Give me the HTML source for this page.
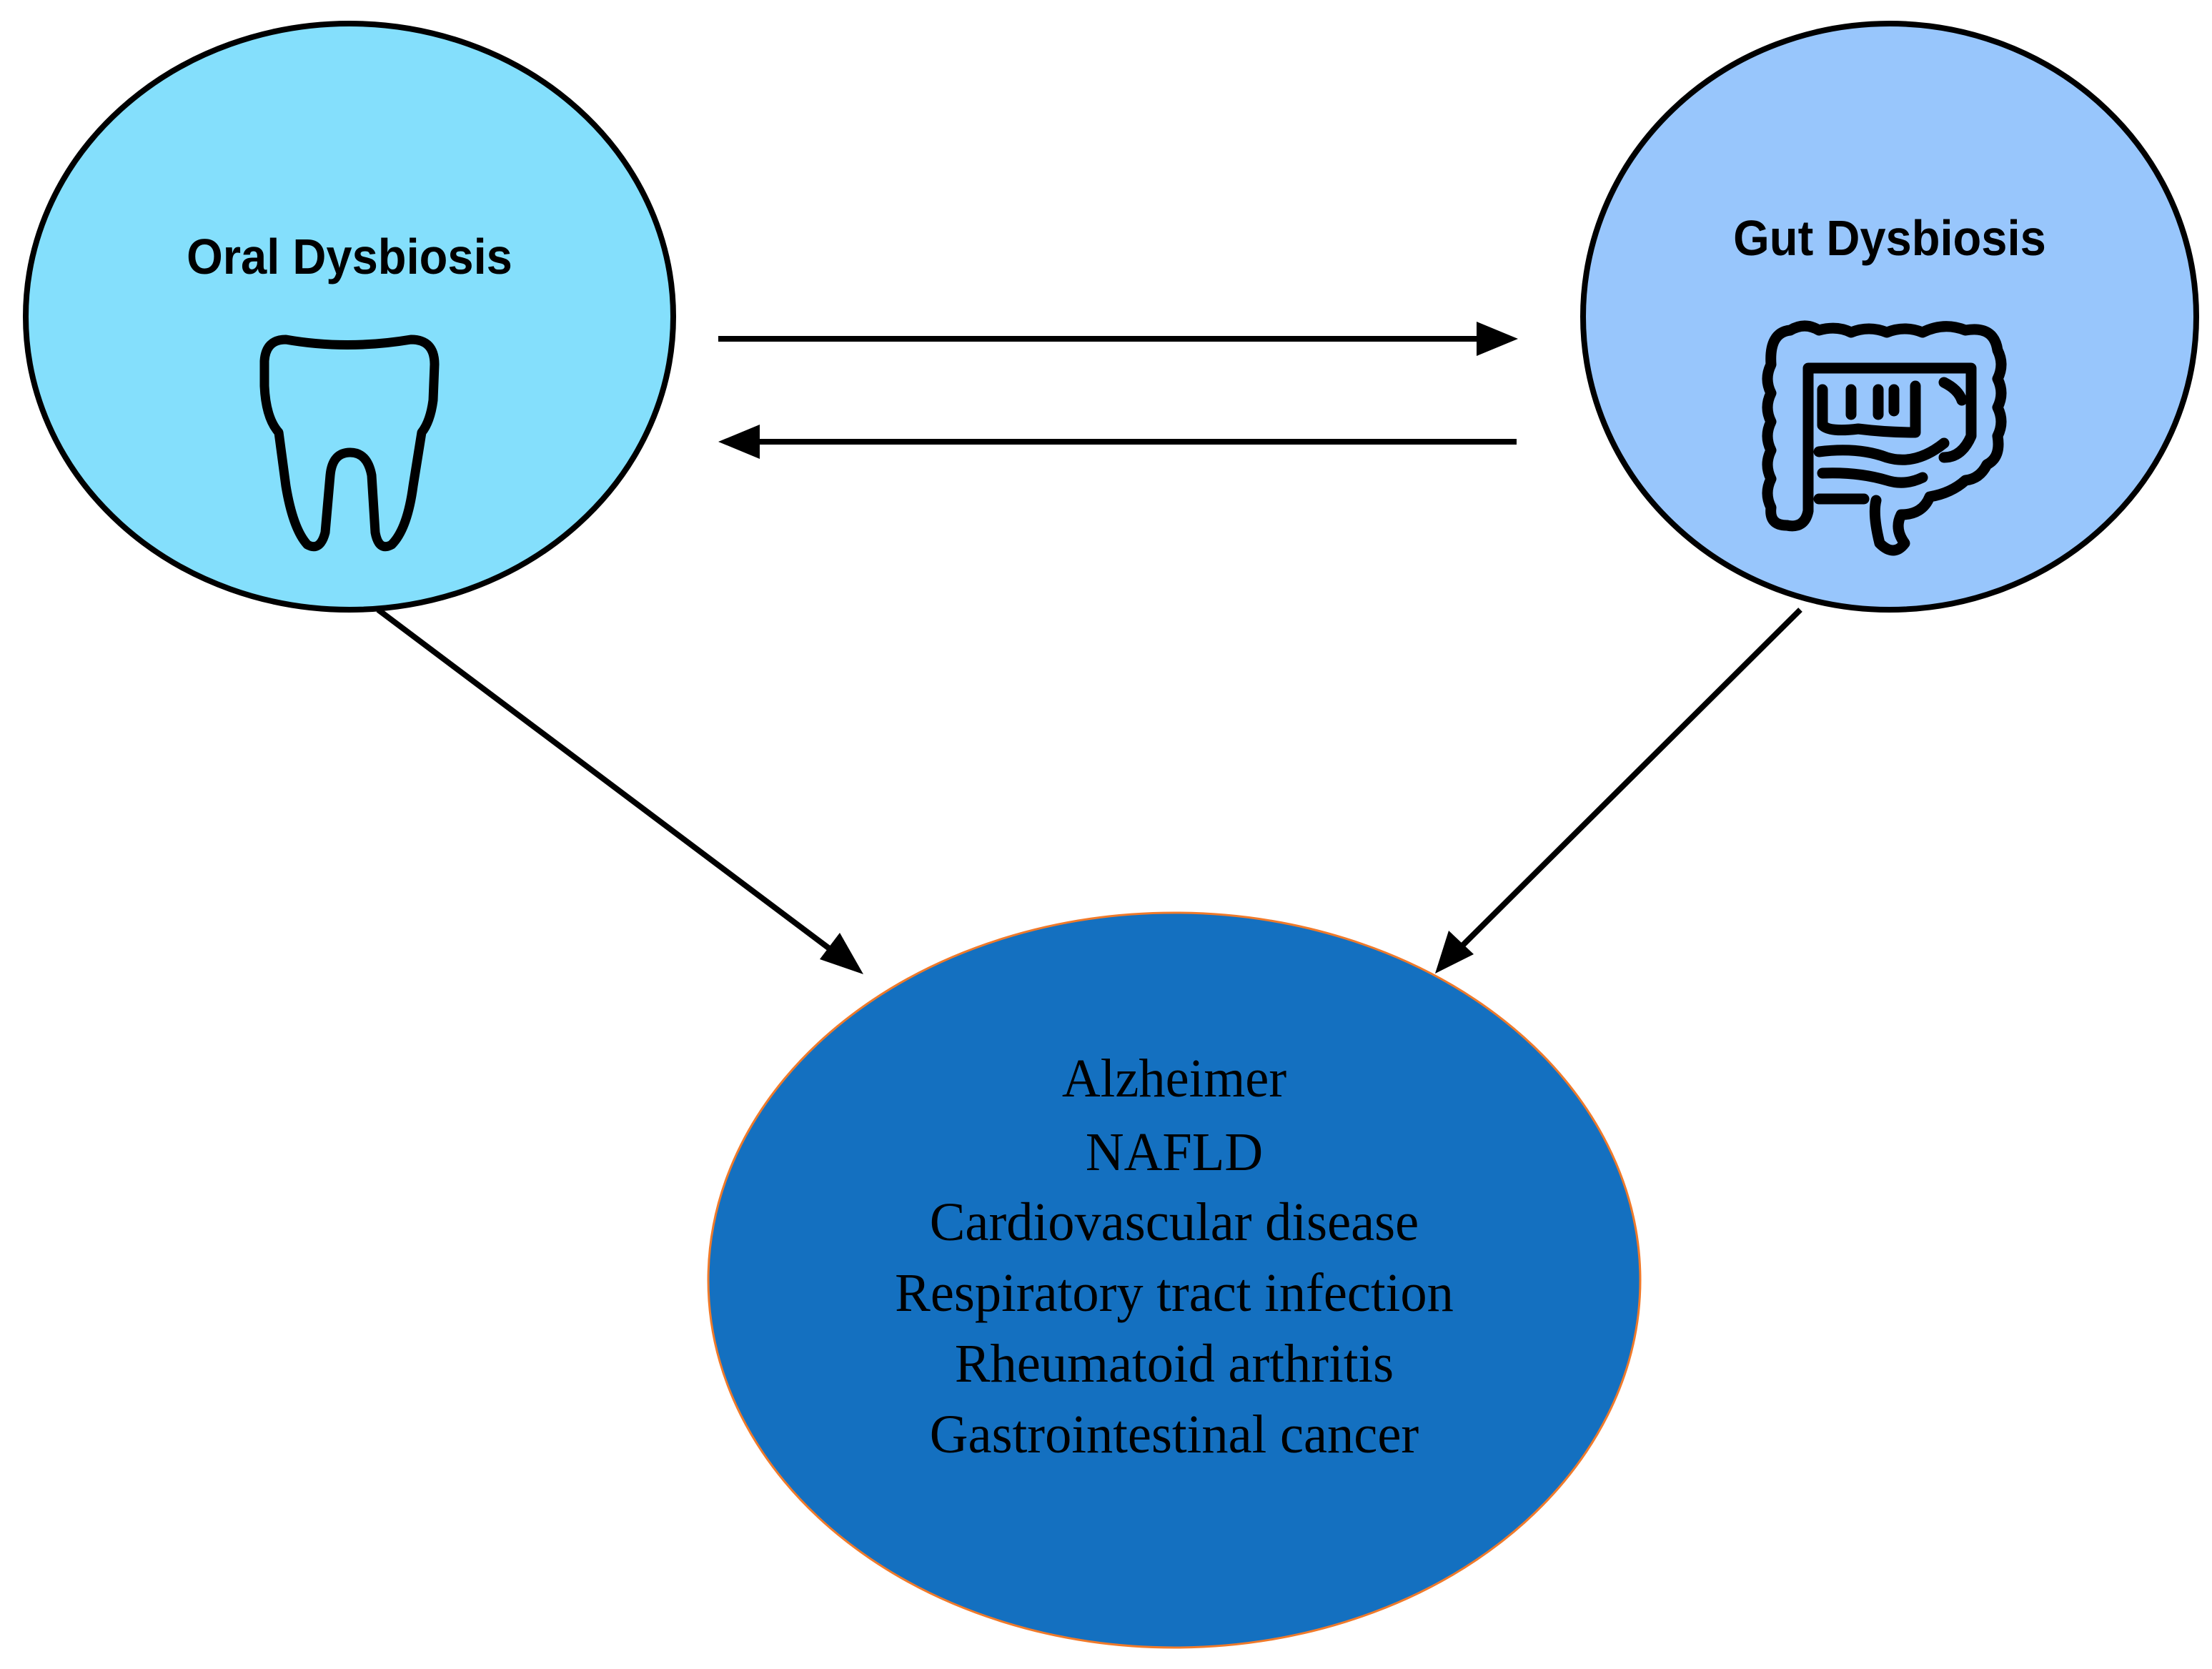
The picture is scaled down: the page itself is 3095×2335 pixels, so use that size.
<!DOCTYPE html>
<html><head><meta charset="utf-8"><style>
html,body{margin:0;padding:0;background:#fff}
svg{display:block}
</style></head><body>
<svg width="3095" height="2335" viewBox="0 0 3095 2335" xmlns="http://www.w3.org/2000/svg">
<ellipse cx="489" cy="443" rx="453" ry="410" fill="#84dffc" stroke="#000" stroke-width="8"/>
<ellipse cx="2644" cy="443" rx="429" ry="410" fill="#98c6fc" stroke="#000" stroke-width="8"/>
<ellipse cx="1643" cy="1791" rx="652" ry="514" fill="#1470c0" stroke="#f07a2a" stroke-width="3"/>

<text x="489" y="383" text-anchor="middle" font-family="Liberation Sans, sans-serif" font-weight="bold" font-size="70" transform="translate(489 0) scale(0.93 1) translate(-489 0)">Oral Dysbiosis</text>
<text x="2644" y="357" text-anchor="middle" font-family="Liberation Sans, sans-serif" font-weight="bold" font-size="70" transform="translate(2644 0) scale(0.93 1) translate(-2644 0)">Gut Dysbiosis</text>

<path d="M400,475 Q485,490 575,475 Q608,475 608,510 L606,560 Q602,590 590,605 L578,680 Q570,740 548,762 Q530,772 525,745 L520,665 Q514,633 490,633 Q465,633 462,665 L455,745 Q448,772 430,762 Q410,740 400,680 L390,605 Q372,585 370,540 L370,505 Q372,475 400,475 Z" fill="none" stroke="#000" stroke-width="13" stroke-linejoin="round"/>

<g fill="none" stroke="#000" stroke-width="15" stroke-linecap="round" stroke-linejoin="round">
<path d="M2500,735 Q2475,735 2478,710 Q2468,690 2478,670 Q2468,650 2478,630 Q2468,610 2478,590 Q2468,570 2478,550 Q2468,530 2478,510 Q2475,465 2505,462 Q2525,450 2545,462 Q2570,455 2590,465 Q2615,455 2640,465 Q2665,455 2690,465 Q2720,450 2750,462 Q2790,455 2795,490 Q2805,510 2795,530 Q2805,550 2795,570 Q2805,590 2795,610 Q2800,640 2780,650 Q2770,670 2750,672 Q2730,690 2700,695 Q2690,720 2660,720 Q2650,740 2665,760 Q2650,780 2630,760 Q2620,720 2625,700"/>
<path d="M2500,735 Q2525,740 2530,715 L2530,515 L2758,515 L2758,610 Q2745,640 2720,640"/>
<path d="M2550,545 L2550,595 Q2560,605 2600,600 Q2640,605 2680,605 L2680,540"/>
<path d="M2590,545 L2590,580 M2628,545 L2628,580 M2650,545 L2650,575 M2720,535 Q2740,545 2745,560"/>
<path d="M2545,632 Q2600,625 2640,640 Q2680,652 2720,620"/>
<path d="M2550,662 Q2600,660 2640,672 Q2665,680 2690,668"/>
<path d="M2545,698 L2608,698"/>
</g>

<g stroke="#000" stroke-width="8" fill="none">
<line x1="1005" y1="474" x2="2080" y2="474"/>
<line x1="2122" y1="618" x2="1050" y2="618"/>
<line x1="529" y1="853" x2="1175" y2="1338"/>
<line x1="2519" y1="853" x2="2036" y2="1333"/>
</g>
<path d="M2124,474 L2066,450 L2066,498 Z" fill="#000"/>
<path d="M1005,618 L1063,594 L1063,642 Z" fill="#000"/>
<path d="M1208,1363 L1147,1342 L1175,1305 Z" fill="#000"/>
<path d="M2008,1362 L2027,1302 L2062,1335 Z" fill="#000"/>

<g font-family="Liberation Serif, serif" font-size="76" text-anchor="middle" fill="#000" transform="translate(1643 0) scale(0.98 1) translate(-1643 0)">
<text x="1643" y="1534">Alzheimer</text>
<text x="1643" y="1637">NAFLD</text>
<text x="1643" y="1735">Cardiovascular disease</text>
<text x="1643" y="1834">Respiratory tract infection</text>
<text x="1643" y="1933">Rheumatoid arthritis</text>
<text x="1643" y="2032">Gastrointestinal cancer</text>
</g>
</svg>
</body></html>
